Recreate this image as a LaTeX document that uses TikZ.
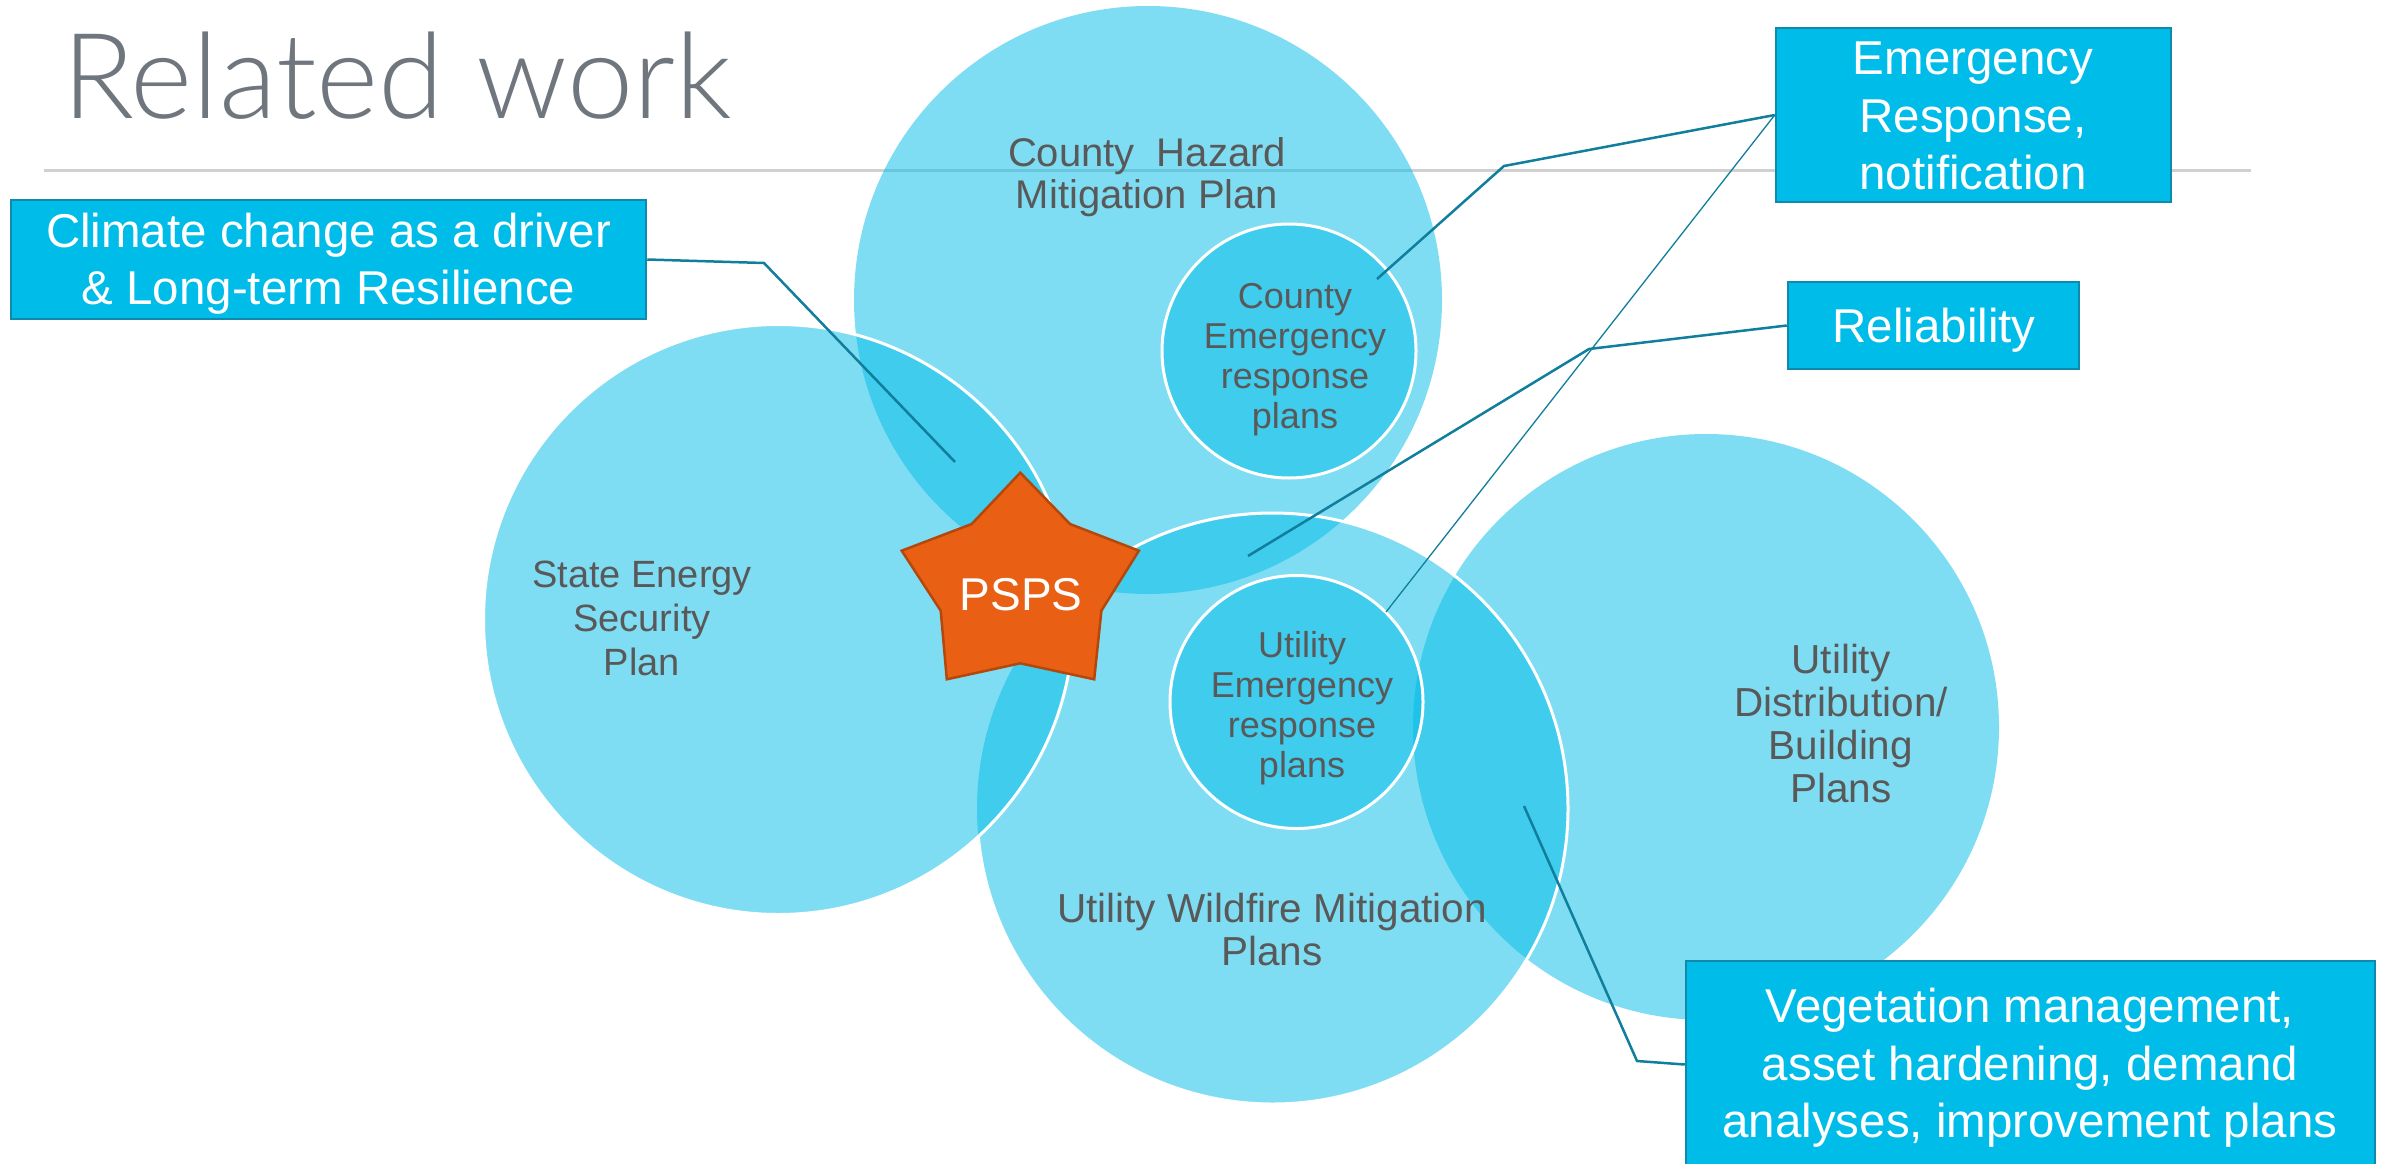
\documentclass[tikz,border=0pt]{standalone}
\usepackage{fontspec}
\setmainfont{Liberation Sans}
\IfFontExistsTF{Lato Light}{\newfontfamily\titlefont{Lato Light}}{\newfontfamily\titlefont{Liberation Sans}}
\definecolor{cyanfill}{RGB}{0,188,232}
\definecolor{boxedge}{RGB}{14,138,172}
\definecolor{connc}{RGB}{16,126,156}
\definecolor{labelgray}{RGB}{89,89,89}
\definecolor{titlegray}{RGB}{111,118,125}
\definecolor{rulegray}{RGB}{208,208,208}
\definecolor{starfill}{RGB}{233,95,20}
\definecolor{staredge}{RGB}{180,72,12}
\begin{document}
\begin{tikzpicture}[x=1pt,y=-1pt,
  venn/.style={fill=cyanfill, fill opacity=0.5},
  ring/.style={draw=white, line width=3pt},
  lbl/.style={text=labelgray, align=center, inner sep=0pt, anchor=center},
  callout/.style={draw=boxedge, line width=2.5pt, fill=cyanfill, inner sep=0pt, anchor=center},
  callouttext/.style={text=white, align=center, inner sep=0pt, anchor=center, font=\fontsize{47.5}{57.5}\selectfont},
  conn/.style={draw=connc, line width=2.5pt},
  connthin/.style={draw=connc, line width=1.3pt}]
\fill[white] (0,0) rectangle (2382,1164);
\useasboundingbox (0,0) rectangle (2382,1164);

% title and rule
\node[anchor=base west, inner sep=0pt, text=titlegray, font=\titlefont\fontsize{119}{125}\selectfont] (title) at (62,118) {Related work};
\coordinate (ruleL) at (44,170);
\coordinate (ruleR) at (2251,170);
\draw[rulegray, line width=3pt] (ruleL) -- (ruleR);

% circle centres
\coordinate (cHaz) at (1148,300);
\coordinate (cState) at (778.5,619.5);
\coordinate (cWild) at (1272.5,808.5);
\coordinate (cDist) at (1706,727);
\coordinate (cCE) at (1289,351);
\coordinate (cUE) at (1296.5,702);

\fill[venn] (cHaz) circle[radius=294pt];
\fill[venn] (cDist) circle[radius=293pt];
\fill[venn] (cWild) circle[radius=295.5pt];
\begin{scope}[even odd rule]
  \clip (0,0) rectangle (2382,1164) (cState) circle[radius=295pt];
  \draw[ring] (cWild) circle[radius=295.5pt];
\end{scope}
\fill[venn] (cState) circle[radius=295pt];
\draw[ring] (cState) circle[radius=295pt];
\fill[venn] (cCE) circle[radius=127pt];
\draw[ring] (cCE) circle[radius=127pt];
\fill[venn] (cUE) circle[radius=126.5pt];
\draw[ring] (cUE) circle[radius=126.5pt];

% star
\draw[fill=starfill, draw=staredge, line width=2.5pt, line join=miter]
  (1020.3,472.7) -- (1070,524) -- (1138.9,550.7) -- (1101.4,610.7) -- (1094.2,679.3)
  -- (1020.3,663.3) -- (946.8,679.3) -- (940.7,610.7) -- (901.7,550.7) -- (971.7,524) -- cycle;
\node[anchor=base, inner sep=0pt, text=white, font=\fontsize{46}{54}\selectfont] (psps) at (1021,610.7) {PSPS};

% circle labels
\node[lbl, font=\fontsize{40}{41}\selectfont] (lHaz) at (1147,179.3) {\strut County\ \ Hazard\\\strut Mitigation Plan};
\node[lbl, font=\fontsize{36}{40}\selectfont] (lCE) at (1295,360) {\strut County\\\strut Emergency\\\strut response\\\strut plans};
\node[lbl, font=\fontsize{38}{44}\selectfont] (lState) at (642,622.2) {\strut State Energy\\\strut Security\\\strut Plan};
\node[lbl, font=\fontsize{40.5}{43}\selectfont] (lWild) at (1272,934.9) {\strut Utility Wildfire Mitigation\\\strut Plans};
\node[lbl, font=\fontsize{36}{40}\selectfont] (lUE) at (1302,709) {\strut Utility\\\strut Emergency\\\strut response\\\strut plans};
\node[lbl, font=\fontsize{40.5}{43.3}\selectfont] (lDist) at (1841,729.3) {\strut Utility\\\strut Distribution/\\\strut Building\\\strut Plans};

% callout boxes
\node[callout, minimum width=635pt, minimum height=119pt] (climate) at (328.5,259.5) {};
\node[callout, minimum width=395pt, minimum height=174pt] (er) at (1973.5,115) {};
\node[callout, minimum width=291pt, minimum height=87pt] (rel) at (1933.5,325.5) {};
\node[callout, minimum width=689pt, minimum height=207pt] (veg) at (2030.5,1064.5) {};

% connector bends and ends
\coordinate (k1) at (764,263);  \coordinate (e1) at (955,462);
\coordinate (k2) at (1504,166); \coordinate (e2) at (1377,279);
\coordinate (e3) at (1386,612);
\coordinate (k4) at (1589,349); \coordinate (e4) at (1248,556);
\coordinate (k5) at (1637,1061); \coordinate (e5) at (1524,806);

\draw[conn] (climate.east) -- (k1) -- (e1);
\draw[conn] (er.west) -- (k2) -- (e2);
\draw[connthin] (er.west) -- (e3);
\draw[conn] (rel.west) -- (k4) -- (e4);
\draw[conn] (veg.west) -- (k5) -- (e5);

% callout texts
\node[callouttext] (tClimate) at (328.5,264.5) {\strut Climate change as a driver\\\strut \& Long-term Resilience};
\node[callouttext] (tEr) at (1973,120.5) {\strut Emergency\\\strut Response,\\\strut notification};
\node[callouttext] (tRel) at (1934,330.5) {\strut Reliability};
\node[callouttext] (tVeg) at (2030,1068.5) {\strut Vegetation management,\\\strut asset hardening, demand\\\strut analyses, improvement plans};
\end{tikzpicture}
\end{document}
